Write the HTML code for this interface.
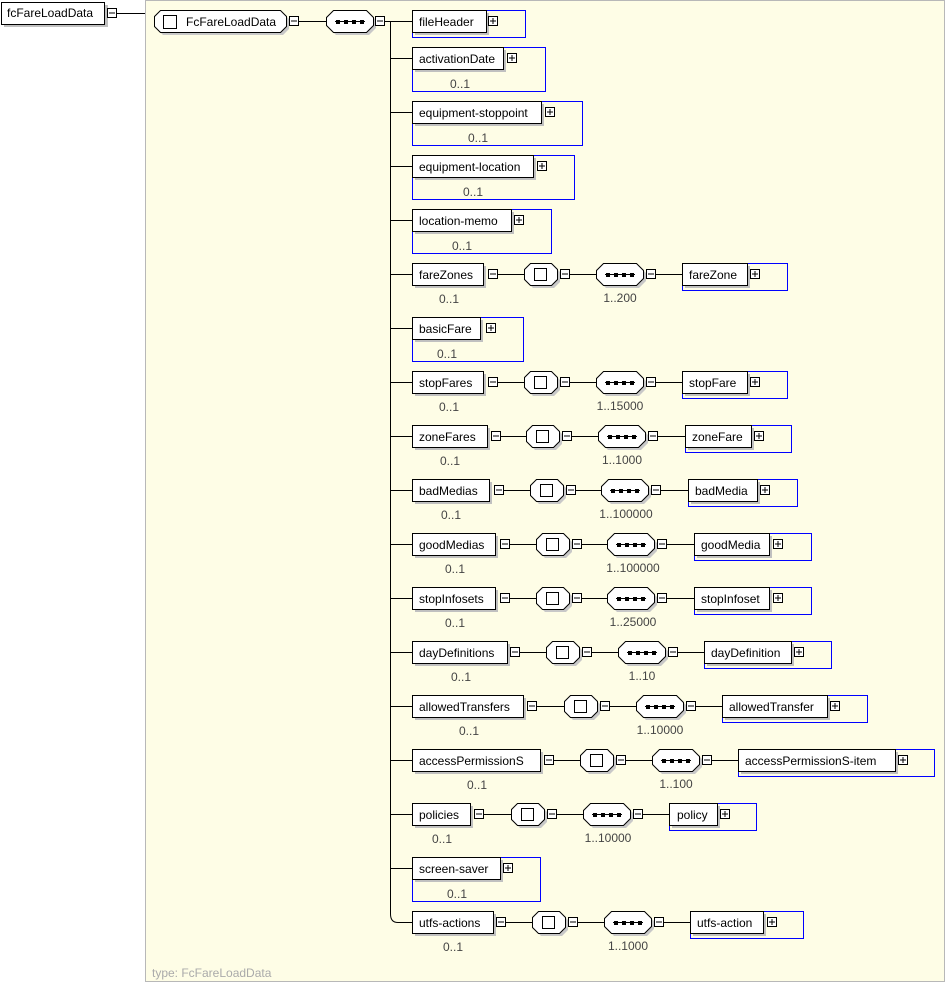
<!DOCTYPE html>
<html><head><meta charset="utf-8"><style>
html,body{margin:0;padding:0;background:#fff}
svg{display:block}
text{font-family:"Liberation Sans",sans-serif;font-size:12px;fill:#000}
.o{fill:#444;text-anchor:middle}
.l{stroke:#000;stroke-width:1;fill:none}
.b{fill:none;stroke:#0000ff;stroke-width:1}
</style></head><body>
<svg width="946" height="983" viewBox="0 0 946 983" xmlns="http://www.w3.org/2000/svg">
<defs>
<g id="m"><rect x="0.5" y="0.5" width="9" height="9" fill="#fff" stroke="#000"/><line x1="2" y1="5" x2="8" y2="5" stroke="#000"/></g>
<g id="p"><rect x="0.5" y="0.5" width="9" height="9" fill="#fff" stroke="#000"/><line x1="2" y1="5" x2="8" y2="5" stroke="#000"/><line x1="5" y1="2" x2="5" y2="8" stroke="#000"/></g>
<g id="c"><polygon points="9,3 30,3 36,9 36,19 30,25 9,25 3,19 3,9" fill="#c8c8c8"/><polygon points="6.5,0.5 27.5,0.5 33.5,6.5 33.5,16.5 27.5,22.5 6.5,22.5 0.5,16.5 0.5,6.5" fill="#fff" stroke="#000"/><rect x="10.5" y="5.5" width="12" height="12" fill="#fff" stroke="#000"/></g>
<g id="s"><polygon points="10,3 43,3 50,10 50,18 43,25 10,25 3,18 3,10" fill="#c8c8c8"/><polygon points="7.5,0.5 40.5,0.5 47.5,7.5 47.5,15.5 40.5,22.5 7.5,22.5 0.5,15.5 0.5,7.5" fill="#fff" stroke="#000"/><line x1="9" y1="11.5" x2="39" y2="11.5" stroke="#000" stroke-width="1"/><rect x="10" y="10" width="4" height="4"/><rect x="18" y="10" width="4" height="4"/><rect x="26" y="10" width="4" height="4"/><rect x="34" y="10" width="4" height="4"/></g>
</defs>

<rect x="145.5" y="0.5" width="799" height="981" fill="#fefde6" stroke="#b8b8b8"/>
<text x="152" y="977" style="fill:#aaa">type: FcFareLoadData</text>

<rect x="4" y="5" width="104" height="22" fill="#c0c0c0"/>
<rect x="1.5" y="2.5" width="103" height="22" fill="#fff" stroke="#000"/>
<text x="7" y="17">fcFareLoadData</text>
<use href="#m" x="107" y="8"/>
<line class="l" x1="117" y1="13.5" x2="145" y2="13.5"/>

<polygon points="163,13 283,13 289,19 289,29 283,35 163,35 157,29 157,19" fill="#c8c8c8"/>
<polygon points="160.5,10.5 280.5,10.5 286.5,16.5 286.5,26.5 280.5,32.5 160.5,32.5 154.5,26.5 154.5,16.5" fill="#fff" stroke="#000"/>
<rect x="163.5" y="15.5" width="13" height="13" fill="#fff" stroke="#000"/>
<text x="186" y="26">FcFareLoadData</text>
<use href="#m" x="289" y="16"/>
<line class="l" x1="299" y1="21.5" x2="327" y2="21.5"/>
<use href="#s" x="326" y="10"/>
<use href="#m" x="375" y="16"/>
<line class="l" x1="385" y1="21.5" x2="412" y2="21.5"/>
<path class="l" d="M390.5 21 V914 Q390.5 922.5 398 922.5 H412"/>

<rect class="b" x="412.5" y="10.5" width="113" height="27"/>
<rect x="415" y="13" width="74" height="22" fill="#c0c0c0"/><rect x="412.5" y="10.5" width="74" height="22" fill="#fff" stroke="#000"/>
<text x="419" y="26">fileHeader</text><use href="#p" x="488" y="16"/>

<line class="l" x1="390" y1="58.5" x2="412" y2="58.5"/>
<rect class="b" x="412.5" y="47.5" width="133" height="44"/>
<rect x="415" y="50" width="91" height="22" fill="#c0c0c0"/><rect x="412.5" y="47.5" width="91" height="22" fill="#fff" stroke="#000"/>
<text x="419" y="63">activationDate</text><use href="#p" x="507" y="53"/><text class="o" x="460" y="88">0..1</text>

<line class="l" x1="390" y1="112.5" x2="412" y2="112.5"/>
<rect class="b" x="412.5" y="101.5" width="170" height="44"/>
<rect x="415" y="104" width="129" height="22" fill="#c0c0c0"/><rect x="412.5" y="101.5" width="129" height="22" fill="#fff" stroke="#000"/>
<text x="419" y="117">equipment-stoppoint</text><use href="#p" x="545" y="107"/><text class="o" x="478" y="142">0..1</text>

<line class="l" x1="390" y1="166.5" x2="412" y2="166.5"/>
<rect class="b" x="412.5" y="155.5" width="162" height="44"/>
<rect x="415" y="158" width="121" height="22" fill="#c0c0c0"/><rect x="412.5" y="155.5" width="121" height="22" fill="#fff" stroke="#000"/>
<text x="419" y="171">equipment-location</text><use href="#p" x="537" y="161"/><text class="o" x="473" y="196">0..1</text>

<line class="l" x1="390" y1="220.5" x2="412" y2="220.5"/>
<rect class="b" x="412.5" y="209.5" width="139" height="44"/>
<rect x="415" y="212" width="99" height="22" fill="#c0c0c0"/><rect x="412.5" y="209.5" width="99" height="22" fill="#fff" stroke="#000"/>
<text x="419" y="225">location-memo</text><use href="#p" x="514" y="215"/><text class="o" x="462" y="250">0..1</text>

<line class="l" x1="390" y1="328.5" x2="412" y2="328.5"/>
<rect class="b" x="412.5" y="317.5" width="111" height="44"/>
<rect x="415" y="320" width="68" height="22" fill="#c0c0c0"/><rect x="412.5" y="317.5" width="68" height="22" fill="#fff" stroke="#000"/>
<text x="419" y="333">basicFare</text><use href="#p" x="486" y="323"/><text class="o" x="447" y="358">0..1</text>

<line class="l" x1="390" y1="868.5" x2="412" y2="868.5"/>
<rect class="b" x="412.5" y="857.5" width="128" height="44"/>
<rect x="415" y="860" width="88" height="22" fill="#c0c0c0"/><rect x="412.5" y="857.5" width="88" height="22" fill="#fff" stroke="#000"/>
<text x="419" y="873">screen-saver</text><use href="#p" x="503" y="863"/><text class="o" x="457" y="898">0..1</text>

<g transform="translate(0,263)">
<line class="l" x1="390" y1="11.5" x2="412" y2="11.5"/>
<rect x="415" y="3" width="71" height="22" fill="#c0c0c0"/><rect x="412.5" y="0.5" width="71" height="22" fill="#fff" stroke="#000"/>
<text x="419" y="16">fareZones</text><use href="#m" x="488" y="6"/>
<line class="l" x1="498" y1="11.5" x2="524" y2="11.5"/><use href="#c" x="524" y="0"/><use href="#m" x="560" y="6"/>
<line class="l" x1="570" y1="11.5" x2="596" y2="11.5"/><use href="#s" x="596" y="0"/><use href="#m" x="646" y="6"/>
<line class="l" x1="656" y1="11.5" x2="682" y2="11.5"/>
<rect class="b" x="682.5" y="0.5" width="105" height="27"/>
<rect x="685" y="3" width="65" height="22" fill="#c0c0c0"/><rect x="682.5" y="0.5" width="65" height="22" fill="#fff" stroke="#000"/>
<text x="689" y="16">fareZone</text><use href="#p" x="750" y="6"/>
<text class="o" x="449" y="40">0..1</text><text class="o" x="620" y="39">1..200</text>
</g>

<g transform="translate(0,371)">
<line class="l" x1="390" y1="11.5" x2="412" y2="11.5"/>
<rect x="415" y="3" width="71" height="22" fill="#c0c0c0"/><rect x="412.5" y="0.5" width="71" height="22" fill="#fff" stroke="#000"/>
<text x="419" y="16">stopFares</text><use href="#m" x="488" y="6"/>
<line class="l" x1="498" y1="11.5" x2="524" y2="11.5"/><use href="#c" x="524" y="0"/><use href="#m" x="560" y="6"/>
<line class="l" x1="570" y1="11.5" x2="596" y2="11.5"/><use href="#s" x="596" y="0"/><use href="#m" x="646" y="6"/>
<line class="l" x1="656" y1="11.5" x2="682" y2="11.5"/>
<rect class="b" x="682.5" y="0.5" width="105" height="27"/>
<rect x="685" y="3" width="65" height="22" fill="#c0c0c0"/><rect x="682.5" y="0.5" width="65" height="22" fill="#fff" stroke="#000"/>
<text x="689" y="16">stopFare</text><use href="#p" x="750" y="6"/>
<text class="o" x="449" y="40">0..1</text><text class="o" x="620" y="39">1..15000</text>
</g>

<g transform="translate(0,425)">
<line class="l" x1="390" y1="11.5" x2="412" y2="11.5"/>
<rect x="415" y="3" width="75" height="22" fill="#c0c0c0"/><rect x="412.5" y="0.5" width="75" height="22" fill="#fff" stroke="#000"/>
<text x="419" y="16">zoneFares</text><use href="#m" x="491" y="6"/>
<line class="l" x1="501" y1="11.5" x2="526" y2="11.5"/><use href="#c" x="526" y="0"/><use href="#m" x="562" y="6"/>
<line class="l" x1="572" y1="11.5" x2="598" y2="11.5"/><use href="#s" x="598" y="0"/><use href="#m" x="648" y="6"/>
<line class="l" x1="658" y1="11.5" x2="685" y2="11.5"/>
<rect class="b" x="685.5" y="0.5" width="106" height="27"/>
<rect x="688" y="3" width="66" height="22" fill="#c0c0c0"/><rect x="685.5" y="0.5" width="66" height="22" fill="#fff" stroke="#000"/>
<text x="692" y="16">zoneFare</text><use href="#p" x="754" y="6"/>
<text class="o" x="450" y="40">0..1</text><text class="o" x="622" y="39">1..1000</text>
</g>

<g transform="translate(0,479)">
<line class="l" x1="390" y1="11.5" x2="412" y2="11.5"/>
<rect x="415" y="3" width="77" height="22" fill="#c0c0c0"/><rect x="412.5" y="0.5" width="77" height="22" fill="#fff" stroke="#000"/>
<text x="419" y="16">badMedias</text><use href="#m" x="494" y="6"/>
<line class="l" x1="504" y1="11.5" x2="530" y2="11.5"/><use href="#c" x="530" y="0"/><use href="#m" x="566" y="6"/>
<line class="l" x1="576" y1="11.5" x2="601" y2="11.5"/><use href="#s" x="601" y="0"/><use href="#m" x="651" y="6"/>
<line class="l" x1="661" y1="11.5" x2="688" y2="11.5"/>
<rect class="b" x="688.5" y="0.5" width="109" height="27"/>
<rect x="691" y="3" width="69" height="22" fill="#c0c0c0"/><rect x="688.5" y="0.5" width="69" height="22" fill="#fff" stroke="#000"/>
<text x="695" y="16">badMedia</text><use href="#p" x="760" y="6"/>
<text class="o" x="451" y="40">0..1</text><text class="o" x="626" y="39">1..100000</text>
</g>

<g transform="translate(0,533)">
<line class="l" x1="390" y1="11.5" x2="412" y2="11.5"/>
<rect x="415" y="3" width="83" height="22" fill="#c0c0c0"/><rect x="412.5" y="0.5" width="83" height="22" fill="#fff" stroke="#000"/>
<text x="419" y="16">goodMedias</text><use href="#m" x="500" y="6"/>
<line class="l" x1="510" y1="11.5" x2="536" y2="11.5"/><use href="#c" x="536" y="0"/><use href="#m" x="572" y="6"/>
<line class="l" x1="582" y1="11.5" x2="607" y2="11.5"/><use href="#s" x="607" y="0"/><use href="#m" x="657" y="6"/>
<line class="l" x1="667" y1="11.5" x2="694" y2="11.5"/>
<rect class="b" x="694.5" y="0.5" width="117" height="27"/>
<rect x="697" y="3" width="75" height="22" fill="#c0c0c0"/><rect x="694.5" y="0.5" width="75" height="22" fill="#fff" stroke="#000"/>
<text x="701" y="16">goodMedia</text><use href="#p" x="773" y="6"/>
<text class="o" x="455" y="40">0..1</text><text class="o" x="633" y="39">1..100000</text>
</g>

<g transform="translate(0,587)">
<line class="l" x1="390" y1="11.5" x2="412" y2="11.5"/>
<rect x="415" y="3" width="83" height="22" fill="#c0c0c0"/><rect x="412.5" y="0.5" width="83" height="22" fill="#fff" stroke="#000"/>
<text x="419" y="16">stopInfosets</text><use href="#m" x="500" y="6"/>
<line class="l" x1="510" y1="11.5" x2="536" y2="11.5"/><use href="#c" x="536" y="0"/><use href="#m" x="572" y="6"/>
<line class="l" x1="582" y1="11.5" x2="607" y2="11.5"/><use href="#s" x="607" y="0"/><use href="#m" x="657" y="6"/>
<line class="l" x1="667" y1="11.5" x2="694" y2="11.5"/>
<rect class="b" x="694.5" y="0.5" width="117" height="27"/>
<rect x="697" y="3" width="75" height="22" fill="#c0c0c0"/><rect x="694.5" y="0.5" width="75" height="22" fill="#fff" stroke="#000"/>
<text x="701" y="16">stopInfoset</text><use href="#p" x="773" y="6"/>
<text class="o" x="455" y="40">0..1</text><text class="o" x="633" y="39">1..25000</text>
</g>

<g transform="translate(0,641)">
<line class="l" x1="390" y1="11.5" x2="412" y2="11.5"/>
<rect x="415" y="3" width="95" height="22" fill="#c0c0c0"/><rect x="412.5" y="0.5" width="95" height="22" fill="#fff" stroke="#000"/>
<text x="419" y="16">dayDefinitions</text><use href="#m" x="510" y="6"/>
<line class="l" x1="520" y1="11.5" x2="546" y2="11.5"/><use href="#c" x="546" y="0"/><use href="#m" x="582" y="6"/>
<line class="l" x1="592" y1="11.5" x2="618" y2="11.5"/><use href="#s" x="618" y="0"/><use href="#m" x="668" y="6"/>
<line class="l" x1="678" y1="11.5" x2="704" y2="11.5"/>
<rect class="b" x="704.5" y="0.5" width="127" height="27"/>
<rect x="707" y="3" width="87" height="22" fill="#c0c0c0"/><rect x="704.5" y="0.5" width="87" height="22" fill="#fff" stroke="#000"/>
<text x="711" y="16">dayDefinition</text><use href="#p" x="794" y="6"/>
<text class="o" x="461" y="40">0..1</text><text class="o" x="642" y="39">1..10</text>
</g>

<g transform="translate(0,695)">
<line class="l" x1="390" y1="11.5" x2="412" y2="11.5"/>
<rect x="415" y="3" width="111" height="22" fill="#c0c0c0"/><rect x="412.5" y="0.5" width="111" height="22" fill="#fff" stroke="#000"/>
<text x="419" y="16">allowedTransfers</text><use href="#m" x="527" y="6"/>
<line class="l" x1="537" y1="11.5" x2="564" y2="11.5"/><use href="#c" x="564" y="0"/><use href="#m" x="600" y="6"/>
<line class="l" x1="610" y1="11.5" x2="636" y2="11.5"/><use href="#s" x="636" y="0"/><use href="#m" x="686" y="6"/>
<line class="l" x1="696" y1="11.5" x2="722" y2="11.5"/>
<rect class="b" x="722.5" y="0.5" width="145" height="27"/>
<rect x="725" y="3" width="105" height="22" fill="#c0c0c0"/><rect x="722.5" y="0.5" width="105" height="22" fill="#fff" stroke="#000"/>
<text x="729" y="16">allowedTransfer</text><use href="#p" x="830" y="6"/>
<text class="o" x="469" y="40">0..1</text><text class="o" x="660" y="39">1..10000</text>
</g>

<g transform="translate(0,749)">
<line class="l" x1="390" y1="11.5" x2="412" y2="11.5"/>
<rect x="415" y="3" width="128" height="22" fill="#c0c0c0"/><rect x="412.5" y="0.5" width="128" height="22" fill="#fff" stroke="#000"/>
<text x="419" y="16">accessPermissionS</text><use href="#m" x="544" y="6"/>
<line class="l" x1="554" y1="11.5" x2="580" y2="11.5"/><use href="#c" x="580" y="0"/><use href="#m" x="616" y="6"/>
<line class="l" x1="626" y1="11.5" x2="652" y2="11.5"/><use href="#s" x="652" y="0"/><use href="#m" x="702" y="6"/>
<line class="l" x1="712" y1="11.5" x2="738" y2="11.5"/>
<rect class="b" x="738.5" y="0.5" width="196" height="27"/>
<rect x="741" y="3" width="157" height="22" fill="#c0c0c0"/><rect x="738.5" y="0.5" width="157" height="22" fill="#fff" stroke="#000"/>
<text x="745" y="16">accessPermissionS-item</text><use href="#p" x="898" y="6"/>
<text class="o" x="477" y="40">0..1</text><text class="o" x="676" y="39">1..100</text>
</g>

<g transform="translate(0,803)">
<line class="l" x1="390" y1="11.5" x2="412" y2="11.5"/>
<rect x="415" y="3" width="58" height="22" fill="#c0c0c0"/><rect x="412.5" y="0.5" width="58" height="22" fill="#fff" stroke="#000"/>
<text x="419" y="16">policies</text><use href="#m" x="474" y="6"/>
<line class="l" x1="484" y1="11.5" x2="511" y2="11.5"/><use href="#c" x="511" y="0"/><use href="#m" x="547" y="6"/>
<line class="l" x1="557" y1="11.5" x2="583" y2="11.5"/><use href="#s" x="583" y="0"/><use href="#m" x="633" y="6"/>
<line class="l" x1="643" y1="11.5" x2="669" y2="11.5"/>
<rect class="b" x="669.5" y="0.5" width="87" height="27"/>
<rect x="672" y="3" width="48" height="22" fill="#c0c0c0"/><rect x="669.5" y="0.5" width="48" height="22" fill="#fff" stroke="#000"/>
<text x="677" y="16">policy</text><use href="#p" x="720" y="6"/>
<text class="o" x="442" y="40">0..1</text><text class="o" x="608" y="39">1..10000</text>
</g>

<g transform="translate(0,911)">
<rect x="415" y="3" width="81" height="22" fill="#c0c0c0"/><rect x="412.5" y="0.5" width="81" height="22" fill="#fff" stroke="#000"/>
<text x="419" y="16">utfs-actions</text><use href="#m" x="496" y="6"/>
<line class="l" x1="506" y1="11.5" x2="532" y2="11.5"/><use href="#c" x="532" y="0"/><use href="#m" x="568" y="6"/>
<line class="l" x1="578" y1="11.5" x2="604" y2="11.5"/><use href="#s" x="604" y="0"/><use href="#m" x="654" y="6"/>
<line class="l" x1="664" y1="11.5" x2="690" y2="11.5"/>
<rect class="b" x="690.5" y="0.5" width="113" height="27"/>
<rect x="693" y="3" width="73" height="22" fill="#c0c0c0"/><rect x="690.5" y="0.5" width="73" height="22" fill="#fff" stroke="#000"/>
<text x="697" y="16">utfs-action</text><use href="#p" x="767" y="6"/>
<text class="o" x="453" y="40">0..1</text><text class="o" x="628" y="39">1..1000</text>
</g>
</svg>
</body></html>
